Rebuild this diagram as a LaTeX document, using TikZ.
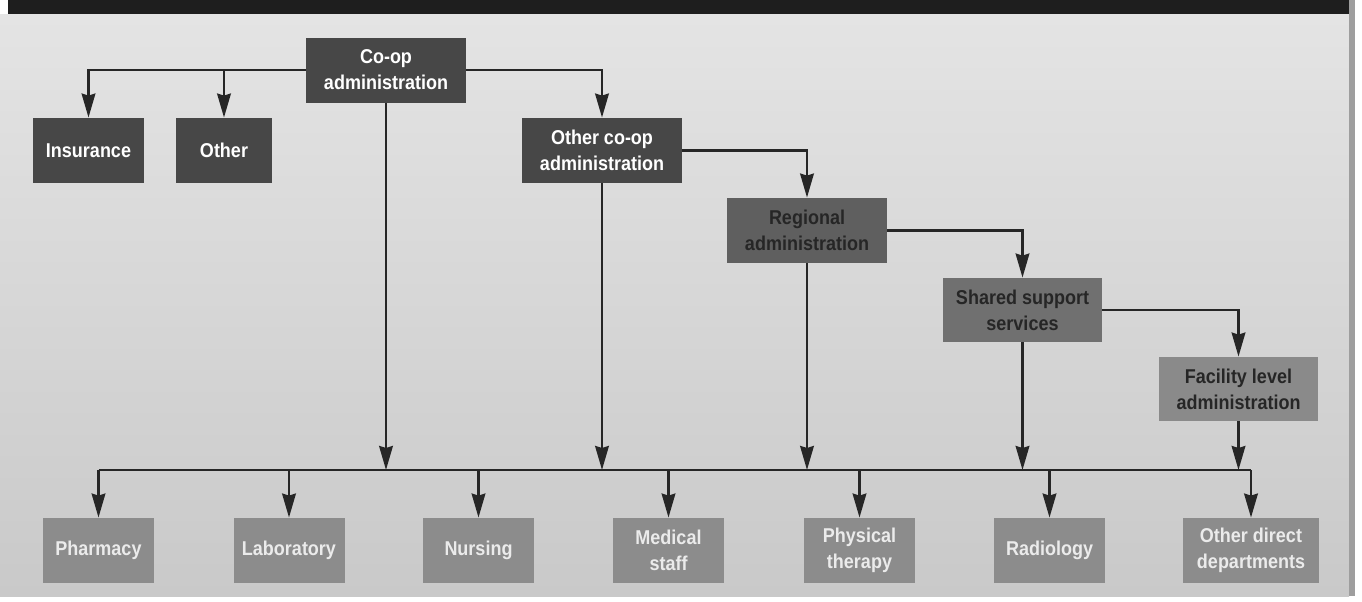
\documentclass[tikz,border=0pt]{standalone}
\usepackage{fontspec}
\setmainfont{Liberation Sans}
\newfontfamily\orgfont{Liberation Sans}[FakeStretch=0.9]
\usetikzlibrary{arrows.meta,positioning,calc}
\definecolor{bgtop}{HTML}{E4E4E4}
\definecolor{bgbot}{HTML}{C9C9C9}
\definecolor{band}{HTML}{1E1E1E}
\definecolor{darkbox}{HTML}{474747}
\definecolor{regbox}{HTML}{5F5F5F}
\definecolor{sharedbox}{HTML}{707070}
\definecolor{facbox}{HTML}{8A8A8A}
\definecolor{deptbox}{HTML}{8C8C8C}
\definecolor{wire}{HTML}{262626}
\tikzset{
    orgbox/.style = {rectangle, inner sep=0pt, align=center, minimum height=32.5pt,
                     font=\orgfont\fontsize{10}{13}\selectfont\bfseries},
    topbox/.style   = {orgbox, fill=darkbox, text=white},
    midbox/.style   = {orgbox, text=black!85},
    deptbox/.style  = {orgbox, fill=deptbox, text=white!92!black, minimum width=55.5pt},
}

\begin{document}
\begin{tikzpicture}[
        x=0.5pt, y=-0.5pt,
        link/.style={line width=1.4pt, draw=wire},
        down/.style={link, -{Stealth[length=12pt, width=6.8pt, inset=1pt]}}
    ]

    % --- Backdrop ---
    \useasboundingbox (0,0) rectangle (1362,601);
    \fill[white] (0,0) rectangle (1362,601);
    \shade[top color=bgtop, bottom color=bgbot] (0,14) rectangle (1349,596);
    \fill[band] (8,0) rectangle (1349,14);
    \fill[black!38] (1349,0) rectangle (1355,596);

    % --- Administration Nodes ---
    \node[topbox, minimum width=80pt] (coop_admin) at (386,70) {Co-op\\administration};
    \node[topbox, minimum width=55.5pt] (insurance) at (88.5,150.5) {Insurance};
    \node[topbox, minimum width=48pt] (other) at (224,150.5) {Other};
    \node[topbox, minimum width=80pt] (other_coop) at (602,150.5) {Other co-op\\administration};

    \node[midbox, fill=regbox, minimum width=80pt] (regional) at (807,230.5) {Regional\\administration};
    \node[midbox, fill=sharedbox, minimum width=79.5pt, minimum height=32pt] (shared) at (1022.5,310) {Shared support\\services};
    \node[midbox, fill=facbox, minimum width=79.5pt, minimum height=32pt] (facility) at (1238.5,389) {Facility level\\administration};

    % --- Department Nodes ---
    \node[deptbox] (pharmacy) at (98.5,550.5) {Pharmacy};
    \node[deptbox] (laboratory) at (289,550.5) {Laboratory};
    \node[deptbox] (nursing) at (478.5,550.5) {Nursing};
    \node[deptbox] (medical) at (668.5,550.5) {Medical\\staff};
    \node[deptbox] (physical) at (859.5,550.5) {Physical\\therapy};
    \node[deptbox] (radiology) at (1049.5,550.5) {Radiology};
    \node[deptbox, minimum width=68pt] (other_direct) at (1251,550.5) {Other direct\\departments};

    \coordinate (bus) at (0,470);

    % --- Administration Connections ---
    \draw[down] (coop_admin.west) -| (insurance.north);
    \draw[down] (coop_admin.west) -| (other.north);
    \draw[down] (coop_admin.east) -| (other_coop.north);
    \draw[down] (other_coop.east) -| (regional.north);
    \draw[down] (regional.east) -| (shared.north);
    \draw[down] (shared.east) -| (facility.north);

    % --- Feeds into the bus ---
    \foreach \src in {coop_admin, other_coop, regional, shared, facility}
        \draw[down] (\src.south) -- (\src.south |- bus);

    % --- Bus to departments ---
    \draw[link] (pharmacy.north |- bus) -- (other_direct.north |- bus);
    \foreach \dept in {pharmacy, laboratory, nursing, medical, physical, radiology, other_direct}
        \draw[down] (\dept.north |- bus) -- (\dept.north);
\end{tikzpicture}
\end{document}
